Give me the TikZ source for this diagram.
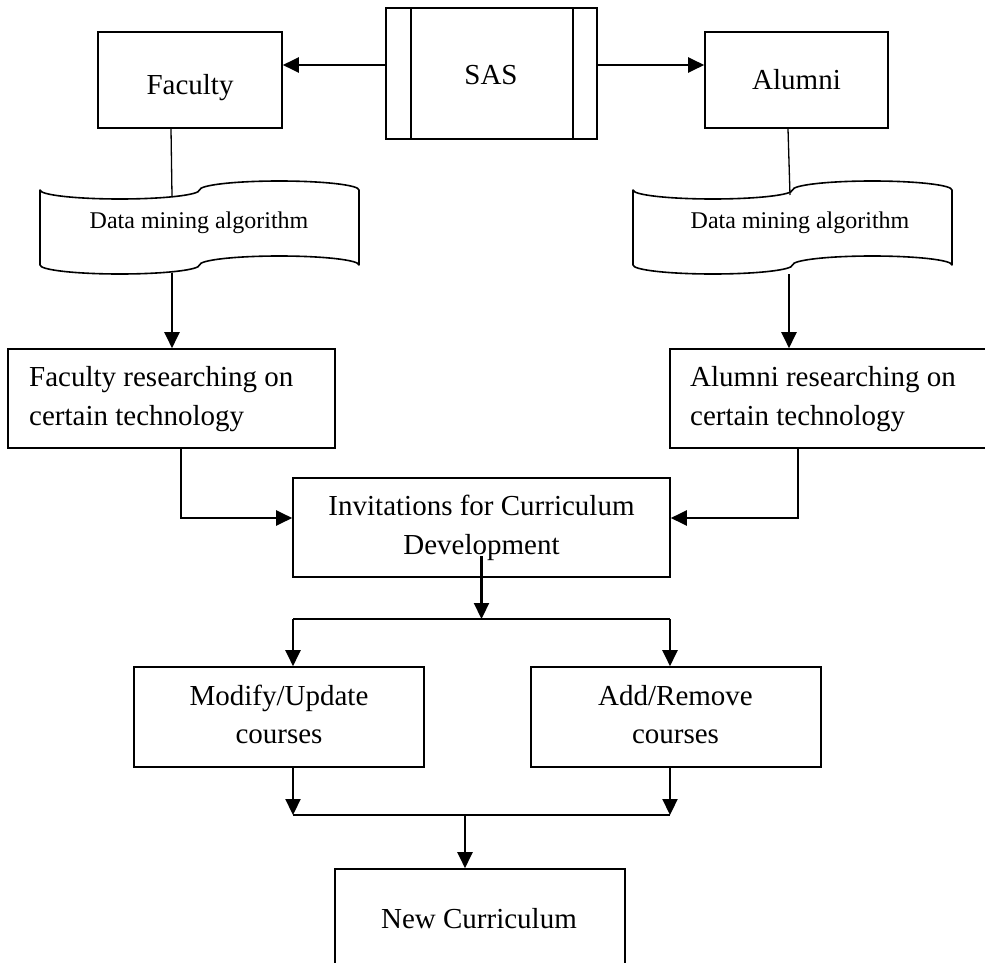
\documentclass[tikz,border=0pt]{standalone}
\usepackage{fontspec}
\setmainfont{Liberation Serif}
\usetikzlibrary{arrows.meta}

\tikzset{
  box/.style={draw, line width=1.6pt, rectangle, inner sep=0pt},
  outline/.style={draw, line width=1.6pt, line join=round},
  lbl/.style={font=\fontsize{29}{36}\selectfont, inner sep=0pt, anchor=base},
  lblleft/.style={lbl, anchor=base west},
  small/.style={font=\fontsize{24}{29}\selectfont, inner sep=0pt, anchor=base},
  flow/.style={line width=2.2pt, -{Triangle[length=16pt,width=15pt]}},
  link/.style={line width=2.2pt},
  feed/.style={line width=1.3pt},
}

% punched-tape outline: #1 left, #2 right, #3 top, #4 bottom (wave amplitude 9)
\newcommand\punchtape[4]{%
  \pgfmathsetmacro\tpA{(#2-#1)/4}%
  \pgfmathsetmacro\tpK{0.5523*\tpA}%
  \pgfmathsetmacro\tpKb{0.5523*9}%
  \draw[outline]
    (#1,#3) .. controls (#1,#3+\tpKb) and (#1+\tpA-\tpK,#3+9) .. (#1+\tpA,#3+9)
            .. controls (#1+\tpA+\tpK,#3+9) and (#1+2*\tpA,#3+\tpKb) .. (#1+2*\tpA,#3)
            .. controls (#1+2*\tpA,#3-\tpKb) and (#1+3*\tpA-\tpK,#3-9) .. (#1+3*\tpA,#3-9)
            .. controls (#1+3*\tpA+\tpK,#3-9) and (#2,#3-\tpKb) .. (#2,#3)
    -- (#2,#4)
            .. controls (#2,#4-\tpKb) and (#1+3*\tpA+\tpK,#4-9) .. (#1+3*\tpA,#4-9)
            .. controls (#1+3*\tpA-\tpK,#4-9) and (#1+2*\tpA,#4-\tpKb) .. (#1+2*\tpA,#4)
            .. controls (#1+2*\tpA,#4+\tpKb) and (#1+\tpA+\tpK,#4+9) .. (#1+\tpA,#4+9)
            .. controls (#1+\tpA-\tpK,#4+9) and (#1,#4+\tpKb) .. (#1,#4)
    -- cycle;%
}

\begin{document}
\begin{tikzpicture}[x=1pt, y=-1pt]
  \useasboundingbox (0,0) rectangle (985,963);
  \clip (0,0) rectangle (985,963);

  % top row
  \node[box, minimum width=211pt, minimum height=131pt] (sas) at (491.5,73.5) {};
  \draw[outline] ([xshift=26pt]sas.north west) -- ([xshift=26pt]sas.south west);
  \draw[outline] ([xshift=-25pt]sas.north east) -- ([xshift=-25pt]sas.south east);
  \node[lbl] (sasT) at (491,85) {SAS};

  \node[box, minimum width=184pt, minimum height=96pt] (fac) at (190,80) {};
  \node[lbl] (facT) at (190,95) {Faculty};
  \node[box, minimum width=183pt, minimum height=96pt] (alu) at (796.5,80) {};
  \node[lbl] (aluT) at (796.5,90) {Alumni};

  % data mining tapes
  \punchtape{40}{359}{190}{265}
  \node[small] (dmL) at (199,228) {Data mining algorithm};
  \coordinate (tapeLin) at (172,196);
  \coordinate (tapeLout) at (172,273);

  \punchtape{633}{952}{190}{265}
  \node[small] (dmR) at (800,228) {Data mining algorithm};
  \coordinate (tapeRin) at (790,195);
  \coordinate (tapeRout) at (789,274);

  % research boxes
  \node[box, minimum width=327pt, minimum height=99pt] (fr) at (171.5,398.5) {};
  \node[lblleft] (frA) at (29,386) {Faculty researching on};
  \node[lblleft] (frB) at (29,425) {certain technology};
  \node[box, minimum width=330pt, minimum height=99pt] (ar) at (835,398.5) {};
  \node[lblleft] (arA) at (690,386) {Alumni researching on};
  \node[lblleft] (arB) at (690,425) {certain technology};

  % invitations
  \node[box, minimum width=377pt, minimum height=99pt] (inv) at (481.5,527.5) {};
  \node[lbl] (invA) at (481.5,515) {Invitations for Curriculum};
  \node[lbl] (invB) at (481.5,554) {Development};

  % course changes
  \node[box, minimum width=290pt, minimum height=100pt] (mod) at (279,717) {};
  \node[lbl] (modA) at (279,705) {Modify/Update};
  \node[lbl] (modB) at (279,743) {courses};
  \node[box, minimum width=290pt, minimum height=100pt] (add) at (676,717) {};
  \node[lbl] (addA) at (675.5,705) {Add/Remove};
  \node[lbl] (addB) at (675.5,743) {courses};

  % result
  \node[box, minimum width=290pt, minimum height=131pt] (new) at (480,934.5) {};
  \node[lbl] (newT) at (479,928) {New Curriculum};

  % junction points
  \coordinate (split) at (481.5,619);
  \coordinate (sL) at (293,619);
  \coordinate (sR) at (670,619);
  \coordinate (mL) at (293,815);
  \coordinate (mR) at (670,815);
  \coordinate (merge) at (465,815);

  % connectors
  \draw[flow] ([yshift=8.5pt]sas.west) -- ([yshift=15pt]fac.east);
  \draw[flow] ([yshift=8.5pt]sas.east) -- ([yshift=15pt]alu.west);
  \draw[feed] ([xshift=-19pt]fac.south) -- (tapeLin);
  \draw[feed] ([xshift=-8.5pt]alu.south) -- (tapeRin);
  \draw[flow] (tapeLout) -- ([xshift=0.5pt]fr.north);
  \draw[flow] (tapeRout) -- ([xshift=-46pt]ar.north);
  \draw[flow] ([xshift=9.5pt]fr.south) |- ([yshift=9.5pt]inv.west);
  \draw[flow] ([xshift=-37pt]ar.south) |- ([yshift=9.5pt]inv.east);
  \draw[flow] ([yshift=22pt]inv.south) -- (split);
  \draw[link] (sL) -- (sR);
  \draw[flow] (sL) -- ([xshift=14pt]mod.north);
  \draw[flow] (sR) -- ([xshift=-6pt]add.north);
  \draw[flow] ([xshift=14pt]mod.south) -- (mL);
  \draw[flow] ([xshift=-6pt]add.south) -- (mR);
  \draw[link] (mL) -- (mR);
  \draw[flow] (merge) -- ([xshift=-15pt]new.north);
\end{tikzpicture}
\end{document}
